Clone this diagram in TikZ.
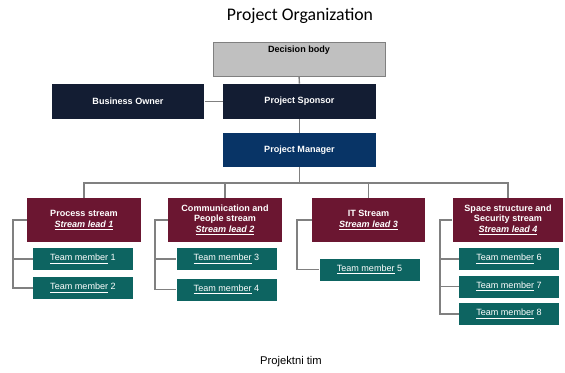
\documentclass[tikz,border=0pt]{standalone}
\usepackage{fontspec}
\setmainfont{Liberation Sans}
\newfontfamily\titlefont{Carlito}
\usetikzlibrary{calc,positioning}

\definecolor{navy}{HTML}{131D33}
\definecolor{pmblue}{HTML}{083466}
\definecolor{maroon}{HTML}{6B1631}
\definecolor{teal}{HTML}{0D6461}
\definecolor{decgray}{HTML}{C0C0C0}
\definecolor{linegray}{HTML}{808080}

\tikzset{
	box/.style={rectangle, inner sep=1pt, align=center, text=white,
		font=\fontsize{6.8}{8}\selectfont\bfseries},
	decbox/.style={box, fill=decgray, draw=linegray, line width=0.6pt, text=black,
		minimum width=129pt, minimum height=25.5pt, text height=7pt, text depth=16.5pt},
	topbox/.style={box, fill=navy, minimum width=114.5pt, minimum height=26.25pt},
	pmbox/.style={box, fill=pmblue, minimum width=114.5pt, minimum height=25.5pt},
	streambox/.style={box, fill=maroon, minimum width=85pt, minimum height=33pt},
	memberbox/.style={box, fill=teal, font=\fontsize{6.8}{8}\selectfont,
		minimum width=75pt, minimum height=16.5pt},
	conn/.style={draw=linegray, line width=1.1pt}
}

\newcommand{\lead}[1]{\textit{\underline{Stream lead #1}}}
\newcommand{\member}[1]{\underline{Team member} #1}

\begin{document}
\begin{tikzpicture}[x=0.75pt,y=-0.75pt]
	\useasboundingbox (0,0) rectangle (565,372);
	\node (title) at (300,16) {\titlefont\fontsize{13.3}{15}\selectfont Project Organization};
	\node[decbox] (dec) at (299,59) {Decision body};
	\node[topbox] (bo) at (128,101.5) {Business Owner};
	\node[topbox] (ps) at (299.5,101.5) {Project Sponsor};
	\node[pmbox] (pm) at (299.5,150) {Project Manager};
	\node[streambox] (s1) at (84,220) {Process stream\\\lead{1}};
	\node[streambox] (s2) at (225,220) {Communication and\\People stream\\\lead{2}};
	\node[streambox] (s3) at (368.5,220) {IT Stream\\\lead{3}};
	\node[streambox, minimum width=83pt] (s4) at (508,220) {Space structure and\\Security stream\\\lead{4}};
	\node[memberbox] (t1) at (83,259) {\member{1}};
	\node[memberbox] (t2) at (83,288) {\member{2}};
	\node[memberbox] (t3) at (226.5,259) {\member{3}};
	\node[memberbox] (t4) at (226.5,289.5) {\member{4}};
	\node[memberbox] (t5) at (369.5,269.5) {\member{5}};
	\node[memberbox] (t6) at (509,259) {\member{6}};
	\node[memberbox] (t7) at (509,286.5) {\member{7}};
	\node[memberbox] (t8) at (509,314) {\member{8}};
	\node[font=\fontsize{8.4}{10}\selectfont] (team) at (291,362) {Projektni tim};
	\path (300,183) coordinate (bus) (13,220) coordinate (r1) (155,220) coordinate (r2)
		(297,220) coordinate (r3) (440,220) coordinate (r4);
	\draw[conn] (dec) -- (ps);
	\draw[conn] (bo) -- (ps);
	\draw[conn] (ps) -- (pm);
	\draw[conn] (pm.south) -- (pm.south |- bus);
	\draw[conn] (s1.north) -- (s1.north |- bus) -- (s4.north |- bus) -- (s4.north);
	\draw[conn] (s2.north |- bus) -- (s2.north);
	\draw[conn] (s3.north |- bus) -- (s3.north);
	\draw[conn] (s1.west) -- (r1) |- (t2.west);
	\draw[conn] (r1) |- (t1.west);
	\draw[conn] (s2.west) -- (r2) |- (t4.west);
	\draw[conn] (r2) |- (t3.west);
	\draw[conn] (s3.west) -- (r3) |- (t5.west);
	\draw[conn] (s4.west) -- (r4) |- (t8.west);
	\draw[conn] (r4) |- (t6.west);
	\draw[conn] (r4) |- (t7.west);
\end{tikzpicture}
\end{document}
